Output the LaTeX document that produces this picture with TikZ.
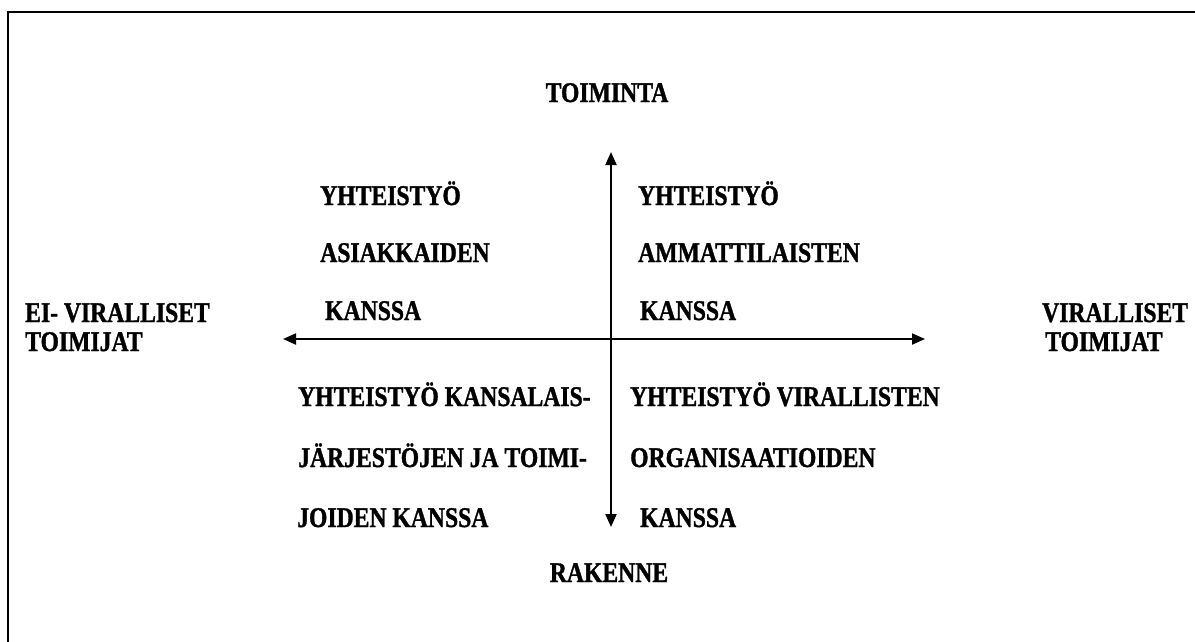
\documentclass[tikz,border=0pt]{standalone}
\usepackage{fontspec}
\setmainfont[FakeStretch=0.83,BoldFeatures={FakeBold=1.2}]{Liberation Serif}
\usetikzlibrary{arrows.meta}
\begin{document}
\begin{tikzpicture}[x=1pt,y=-1pt,
  lbl/.style={anchor=base west, inner sep=0pt, font=\fontsize{28.5}{30}\selectfont\bfseries},
  ctr/.style={lbl, anchor=base},
  axis/.style={line width=2pt, {Triangle[length=13pt,width=11pt]}-{Triangle[length=13pt,width=11pt]}},
  frame/.style={line width=2.4pt}]
\clip (0,0) rectangle (1195,641);
% outer frame (runs past the right and bottom edges)
\draw[frame] (8,12) rectangle (1220,670);

% axes
\coordinate (axT) at (611,152);
\coordinate (axB) at (611,527);
\coordinate (axL) at (283,339);
\coordinate (axR) at (925,339);
\draw[axis] (axT) -- (axB);
\draw[axis] (axL) -- (axR);

% axis end labels
\node[ctr] (top) at (607,102) {TOIMINTA};
\node[ctr] (bottom) at (609,582) {RAKENNE};
\node[lbl] (left1) at (25,322) {EI- VIRALLISET};
\node[lbl] (left2) at (25,351) {TOIMIJAT};
\node[lbl] (right1) at (1042,322) {VIRALLISET};
\node[lbl] (right2) at (1045,351) {TOIMIJAT};

% upper left quadrant
\node[lbl] (ul1) at (320,205) {YHTEISTYÖ};
\node[lbl] (ul2) at (320,262) {ASIAKKAIDEN};
\node[lbl] (ul3) at (325,320) {KANSSA};

% upper right quadrant
\node[lbl] (ur1) at (638,205) {YHTEISTYÖ};
\node[lbl] (ur2) at (638,262) {AMMATTILAISTEN};
\node[lbl] (ur3) at (640,320) {KANSSA};

% lower left quadrant
\node[lbl] (ll1) at (298,406) {YHTEISTYÖ KANSALAIS-};
\node[lbl] (ll2) at (298,467) {JÄRJESTÖJEN JA TOIMI-};
\node[lbl] (ll3) at (297,527) {JOIDEN KANSSA};

% lower right quadrant
\node[lbl] (lr1) at (630,406) {YHTEISTYÖ VIRALLISTEN};
\node[lbl] (lr2) at (630,467) {ORGANISAATIOIDEN};
\node[lbl] (lr3) at (640,527) {KANSSA};
\end{tikzpicture}
\end{document}
